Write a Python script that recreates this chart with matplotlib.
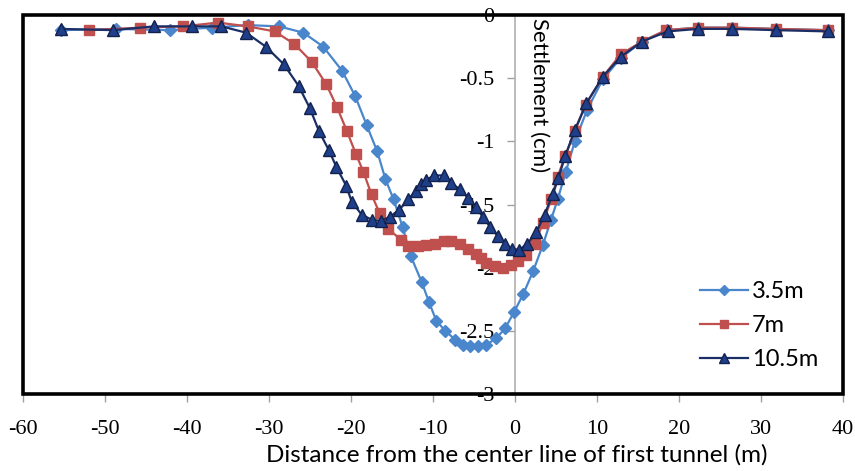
import numpy as np
import matplotlib
matplotlib.use("Agg")
import matplotlib.pyplot as plt
from matplotlib.patches import Rectangle

plt.rcParams["font.family"] = ["Liberation Serif", "DejaVu Serif"]

# values (x in m, settlement in cm)
x_35 = [-55.4, -48.6, -42.1, -37.0, -32.6, -28.8, -25.8, -23.4, -21.1, -19.5, -18.1,
        -16.8, -15.8, -14.8, -13.7, -12.7, -11.4, -10.5, -9.6, -8.5, -7.3, -6.3,
        -5.5, -4.5, -3.5, -2.3, -1.2, -0.1, 1.0, 2.2, 3.4, 4.4, 5.2, 6.2, 7.3,
        8.8, 10.7, 12.9, 15.5, 18.5, 22.3, 26.5, 31.8, 38.2]
s_35 = [-0.12, -0.11, -0.12, -0.10, -0.08, -0.09, -0.14, -0.25, -0.44, -0.64, -0.87,
        -1.08, -1.30, -1.46, -1.68, -1.91, -2.11, -2.27, -2.42, -2.50, -2.57, -2.61,
        -2.62, -2.62, -2.61, -2.56, -2.48, -2.35, -2.21, -2.03, -1.82, -1.62, -1.46, -1.24, -1.00,
        -0.75, -0.51, -0.34, -0.21, -0.12, -0.10, -0.10, -0.11, -0.12]

x_7 = [-52.0, -45.7, -40.5, -36.2, -32.6, -29.3, -26.9, -24.8, -23.0, -21.7, -20.5,
       -19.4, -18.5, -17.5, -16.5, -15.5, -13.9, -13.0, -11.8, -10.8, -9.7, -8.7,
       -7.8, -6.7, -5.7, -4.8, -4.2, -3.5, -2.4, -1.5, -0.5, 0.4, 1.3, 2.4, 3.4,
       4.4, 5.2, 6.1, 7.3, 8.6, 10.7, 12.9, 15.5, 18.4, 22.3, 26.5, 31.8, 38.2]
s_7 = [-0.12, -0.10, -0.09, -0.06, -0.09, -0.13, -0.23, -0.37, -0.55, -0.73, -0.92,
       -1.10, -1.24, -1.42, -1.57, -1.69, -1.78, -1.83, -1.83, -1.82, -1.81, -1.79,
       -1.79, -1.81, -1.85, -1.89, -1.92, -1.96, -1.99, -2.00, -1.98, -1.95, -1.90, -1.81, -1.65,
       -1.46, -1.28, -1.12, -0.92, -0.71, -0.49, -0.31, -0.21, -0.12, -0.10, -0.10, -0.11, -0.12]

x_105 = [-55.4, -49.0, -44.0, -39.4, -35.8, -32.8, -30.4, -28.2, -26.4, -25.0, -23.9,
         -22.7, -21.8, -20.6, -19.9, -18.7, -17.5, -16.4, -15.3, -14.1, -13.0, -12.1,
         -11.5, -10.9, -9.9, -8.7, -7.8, -6.7, -5.7, -4.8, -3.9, -3.0, -2.1, -1.2,
         -0.4, 0.5, 1.5, 2.6, 3.6, 4.6, 5.3, 6.1, 7.3, 8.7, 10.7, 12.9, 15.5, 18.6,
         22.3, 26.5, 31.8, 38.2]
s_105 = [-0.11, -0.12, -0.09, -0.09, -0.09, -0.14, -0.25, -0.39, -0.56, -0.74, -0.92,
         -1.07, -1.20, -1.35, -1.48, -1.58, -1.62, -1.63, -1.60, -1.54, -1.46, -1.39,
         -1.34, -1.31, -1.27, -1.27, -1.33, -1.38, -1.45, -1.52, -1.60, -1.68, -1.75, -1.81,
         -1.85, -1.86, -1.81, -1.72, -1.58, -1.42, -1.29, -1.12, -0.91, -0.70, -0.49, -0.33,
         -0.21, -0.13, -0.11, -0.11, -0.12, -0.13]

labels = ["3.5m", "7m", "10.5m"]
xticks = [-60, -50, -40, -30, -20, -10, 0, 10, 20, 30, 40]
yticks = [0, -0.5, -1, -1.5, -2, -2.5, -3]
ytick_text = ["0", "-0.5", "-1", "-1.5", "-2", "-2.5", "-3"]

fig = plt.figure(figsize=(8.55, 4.71), dpi=100)
ax = fig.add_axes([23 / 855, 1 - 394 / 471, 820 / 855, 379 / 471])

ax.plot(x_35, s_35, color="#4A86CC", lw=1.6, marker="D", ms=6.5,
        mec="#4A86CC", label=labels[0], zorder=3)
ax.plot(x_7, s_7, color="#C0504D", lw=1.6, marker="s", ms=7.5,
        mec="#C0504D", label=labels[1], zorder=4)
ax.plot(x_105, s_105, color="#1B2F66", lw=1.6, marker="^", ms=9,
        mfc="#1F3F8A", mec="#13224D", label=labels[2], zorder=5)

ax.set_xlim(-60, 40)
ax.set_ylim(-3, 0)

# y axis sits at x = 0 inside the plot
ax.spines["left"].set_position(("data", 0))
ax.spines["left"].set_color("#B0B0B0")
ax.spines["left"].set_linewidth(1.2)
ax.spines["right"].set_visible(False)
ax.spines["top"].set_visible(False)
ax.spines["bottom"].set_visible(False)

ax.set_xticks(xticks)
ax.set_yticks(yticks)
ax.set_xticklabels([str(v) for v in xticks], fontfamily="Liberation Serif")
ax.set_yticklabels(ytick_text, fontfamily="Liberation Serif")
ax.tick_params(axis="both", direction="out", length=6, width=1, color="#A0A0A0",
               labelsize=16)
ax.tick_params(axis="x", pad=13)
ax.tick_params(axis="y", pad=9)

# thick black frame round the plot area
frame = Rectangle((0, 0), 1, 1, transform=ax.transAxes, fill=False,
                  lw=2.6, ec="black", clip_on=False, zorder=6)
ax.add_patch(frame)

ax.text(1.7, -0.02, "Settlement (cm)", rotation=-90, ha="left", va="top",
        fontsize=16, family="Lato", zorder=7)
fig.text(517 / 855, 1 - 455 / 471, "Distance from the center line of first tunnel (m)",
         ha="center", va="center", fontsize=17.5, family="Lato")

ax.legend(loc="upper left", bbox_to_anchor=(700 / 855, 1 - 281 / 471),
          bbox_transform=fig.transFigure, frameon=False,
          prop={"family": "Lato", "size": 17}, handlelength=2.05,
          handletextpad=0.15, labelspacing=0.55, borderpad=0, borderaxespad=0,
          markerscale=0.75)

fig.savefig("out.png", dpi=100)
